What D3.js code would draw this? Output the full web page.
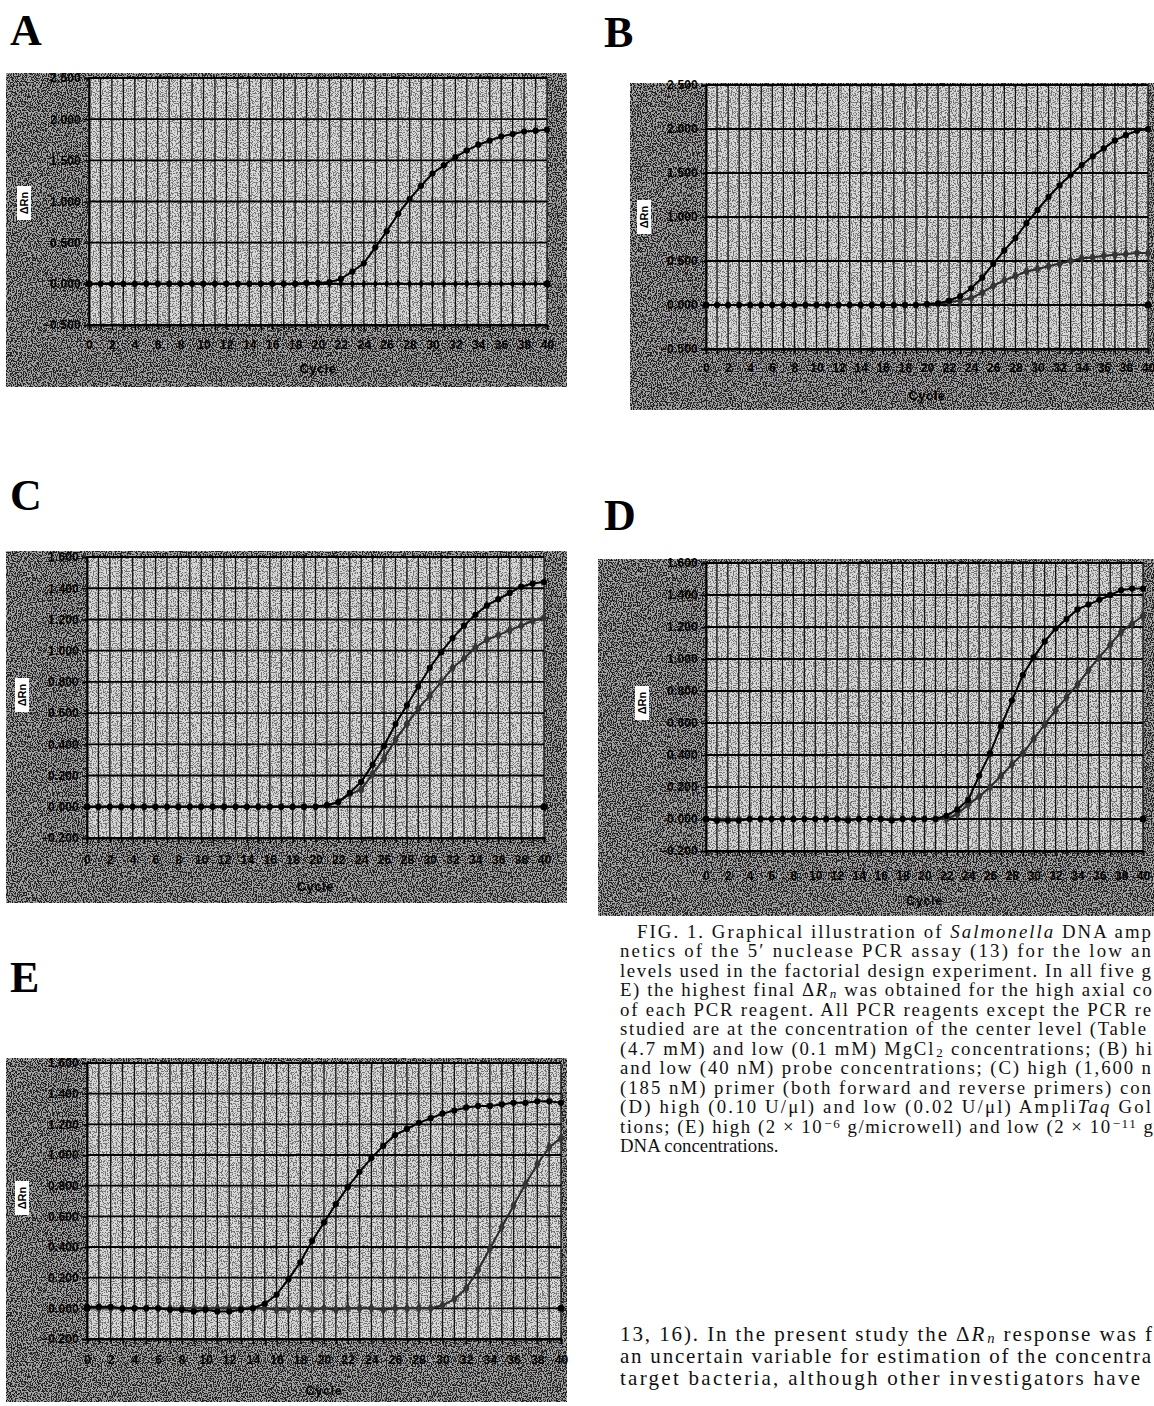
<!DOCTYPE html>
<html><head><meta charset="utf-8">
<script src="https://cdn.jsdelivr.net/npm/d3@7"></script>
<style>
html,body{margin:0;padding:0;background:#fff;overflow:hidden;}
svg{display:block;}
</style></head><body>
<svg id="fig" width="1154" height="1406"></svg>
<script>
// ---------- DATA ----------
const cycles = [0,1,2,3,4,5,6,7,8,9,10,11,12,13,14,15,16,17,18,19,20,21,22,23,24,25,26,27,28,29,30,31,32,33,34,35,36,37,38,39,40];
const xTickLabels = ["0","2","4","6","8","10","12","14","16","18","20","22","24","26","28","30","32","34","36","38","40"];
const yTicksAB = [-0.5,0,0.5,1.0,1.5,2.0,2.5];
const yTicksCDE = [-0.2,0,0.2,0.4,0.6,0.8,1.0,1.2,1.4,1.6];

const highA = [0,0,0,0,0,0,0,0,0,0, 0,0,0,0,0,0,0,0,0,0.01, 0.01,0.02,0.06,0.15,0.25,0.44,0.64,0.85,1.03,1.19, 1.34,1.44,1.54,1.62,1.69,1.74,1.79,1.82,1.85,1.86, 1.87];
const lowA  = [0,0,0,0,0,0,0,0,0,0, 0,0,0,0,0,0,0,0,0,0, 0,0,0,0,0,0,0,0,0,0, 0,0,0,0,0,0,0,0,0,0, 0];

const highB = [0,0,0,0,0,0,0,0,0,0, 0,0,0,0,0,0,0,0,0,0, 0.01,0.02,0.05,0.10,0.19,0.31,0.47,0.62,0.76,0.93, 1.08,1.23,1.36,1.48,1.59,1.69,1.78,1.87,1.93,1.98, 2.00];
const lowB  = [0,0,0,0,0,0,0,0,0,0, 0,0,0,0,0,0,0,0,0,0, 0,0.01,0.03,0.05,0.08,0.14,0.22,0.28,0.33,0.38, 0.41,0.44,0.47,0.50,0.53,0.54,0.56,0.57,0.58,0.59, 0.59];

const highC = [0,0,0,0,0,0,0,0,0,0, 0,0,0,0,0,0,0,0,0,0, 0,0.01,0.03,0.09,0.16,0.27,0.39,0.53,0.65,0.77, 0.89,0.99,1.08,1.16,1.23,1.29,1.33,1.37,1.41,1.43, 1.44];
const lowC  = [0,0,0,0,0,0,0,0,0,0, 0,0,0,0,0,0,0,0,0,0, 0,0.01,0.03,0.08,0.11,0.21,0.31,0.43,0.53,0.63, 0.71,0.80,0.89,0.95,1.02,1.07,1.10,1.13,1.16,1.19, 1.21];

const highD = [0,-0.01,-0.01,-0.01,0,0,0,0,0,0, 0,0,0,-0.01,0,0,0,-0.01,0,0, 0,0,0.02,0.06,0.12,0.27,0.41,0.58,0.74,0.90, 1.01,1.11,1.19,1.25,1.31,1.34,1.37,1.40,1.43,1.44, 1.44];
const lowD  = [0,0,0,0,0,0,0,0,0,0, 0,0,0,0,0,0,0,0,0,0, 0,0,0,0.03,0.09,0.14,0.20,0.27,0.34,0.41, 0.50,0.59,0.68,0.76,0.84,0.93,1.01,1.09,1.17,1.22, 1.27];

const highE = [0.01,0.01,0.01,0,0,0,0,-0.01,-0.01,-0.02, -0.01,-0.02,-0.02,-0.01,0,0.03,0.09,0.19,0.30,0.44, 0.56,0.68,0.79,0.89,0.98,1.06,1.13,1.17,1.21,1.24, 1.27,1.29,1.31,1.32,1.32,1.33,1.34,1.34,1.35,1.35, 1.34];
const lowE  = [0,0,0,0,0,0,0,0,0,0, 0,0,0,0,0,0,-0.01,-0.01,0,-0.01, 0,-0.01,0,0,0,-0.01,0,0,0,0, 0.02,0.06,0.13,0.25,0.39,0.53,0.67,0.81,0.94,1.05, 1.11];

const panelNames = ["A","B","C","D","E"];
const yAxisTitle = "\u0394Rn";
const xAxisTitle = "Cycle";

// caption text as visible in the reference (the right page edge cuts each line)
const captionLines = [
  [["FIG. 1. Graphical illustration of "],["Salmonella","i"],[" DNA amp"]],
  [["netics of the 5\u2032 nuclease PCR assay (13) for the low an"]],
  [["levels used in the factorial design experiment. In all five g"]],
  [["E) the highest final \u0394"],["R","i"],["n","isub"],[" was obtained for the high axial co"]],
  [["of each PCR reagent. All PCR reagents except the PCR re"]],
  [["studied are at the concentration of the center level (Table"]],
  [["(4.7 mM) and low (0.1 mM) MgCl"],["2","sub"],[" concentrations; (B) hi"]],
  [["and low (40 nM) probe concentrations; (C) high (1,600 n"]],
  [["(185 nM) primer (both forward and reverse primers) con"]],
  [["(D) high (0.10 U/\u03bcl) and low (0.02 U/\u03bcl) Ampli"],["Taq","i"],[" Gol"]],
  [["tions; (E) high (2 \u00d7 10"],["\u22126","sup"],[" g/microwell) and low (2 \u00d7 10"],["\u221211","sup"],[" g"]],
  [["DNA concentrations."]]
];
const bodyLines = [
  [["13, 16). In the present study the \u0394"],["R","i"],["n","isub"],[" response was f"]],
  [["an uncertain variable for estimation of the concentra"]],
  [["target bacteria, although other investigators have"]]
];

// ---------- LAYOUT ----------
const layout = {
  A: {letter:[10,45],  box:[6,73,561,314],   plot:[89,547,78,325],   xlab:345, cyc:373, ylab:[24,203],  ticks:yTicksAB},
  B: {letter:[604,47], box:[630,83,530,327], plot:[706,1148,85,349], xlab:368, cyc:400, ylab:[644,217], ticks:yTicksAB},
  C: {letter:[10,510], box:[6,551,561,352],  plot:[87,544,557,838],  xlab:860, cyc:891, ylab:[22,695],  ticks:yTicksCDE},
  D: {letter:[604,530],box:[598,559,560,357],plot:[706,1143,563,851],xlab:876, cyc:905, ylab:[642,703], ticks:yTicksCDE},
  E: {letter:[10,992], box:[6,1058,561,344], plot:[87,561,1063,1339],xlab:1360,cyc:1395,ylab:[22,1198], ticks:yTicksCDE}
};
const series = {A:[highA,lowA], B:[highB,lowB], C:[highC,lowC], D:[highD,lowD], E:[highE,lowE]};

// ---------- DRAW ----------
const svg = d3.select("#fig");
const defs = svg.append("defs");
function makeDither(id, thresh, bg, dot, seed){
  const f = defs.append("filter").attr("id",id)
    .attr("x",0).attr("y",0).attr("width",1).attr("height",1)
    .attr("color-interpolation-filters","sRGB");
  f.append("feTurbulence").attr("type","fractalNoise").attr("baseFrequency",0.8)
    .attr("numOctaves",1).attr("seed",seed).attr("result","n");
  f.append("feColorMatrix").attr("in","n").attr("type","matrix")
    .attr("values","0 0 0 0 0  0 0 0 0 0  0 0 0 0 0  1 0 0 0 0").attr("result","a");
  const ct = f.append("feComponentTransfer").attr("in","a").attr("result","b");
  ct.append("feFuncA").attr("type","linear").attr("slope",14).attr("intercept",-14*thresh);
  f.append("feFlood").attr("flood-color",dot).attr("result","k");
  f.append("feComposite").attr("in","k").attr("in2","b").attr("operator","in").attr("result","dots");
  f.append("feFlood").attr("flood-color",bg).attr("result","bgc");
  const m = f.append("feMerge");
  m.append("feMergeNode").attr("in","bgc");
  m.append("feMergeNode").attr("in","dots");
}
makeDither("dDark", 0.475, "#a4a4a4", "#202020", 3);
makeDither("dLight", 0.51, "#d8d8d8", "#727272", 11);

const fmtY = d3.format(".3f");
const tickFont = "'Liberation Sans', Arial, sans-serif";

panelNames.forEach(key => {
  const L = layout[key];
  const [high, low] = series[key];
  const g = svg.append("g").attr("class","panel-"+key);

  svg.append("text").attr("x",L.letter[0]).attr("y",L.letter[1])
    .attr("font-family","'Liberation Serif','Times New Roman',serif")
    .attr("font-weight","bold").attr("font-size",44).attr("fill","#000").text(key);

  g.append("rect").attr("x",L.box[0]).attr("y",L.box[1]).attr("width",L.box[2]).attr("height",L.box[3])
    .attr("fill","#888").attr("filter","url(#dDark)");

  const x = d3.scaleLinear().domain([cycles[0], cycles[cycles.length-1]]).range([L.plot[0], L.plot[1]]);
  const y = d3.scaleLinear().domain(d3.extent(L.ticks)).range([L.plot[3], L.plot[2]]);

  g.append("rect").attr("x",x(cycles[0])).attr("y",y(d3.max(L.ticks)))
    .attr("width",x(cycles[cycles.length-1])-x(cycles[0]))
    .attr("height",y(d3.min(L.ticks))-y(d3.max(L.ticks)))
    .attr("fill","#bbb").attr("filter","url(#dLight)");

  g.append("g").selectAll("line").data(cycles).join("line")
    .attr("x1",d=>x(d)).attr("x2",d=>x(d))
    .attr("y1",y(d3.max(L.ticks))).attr("y2",y(d3.min(L.ticks)))
    .attr("stroke","#111").attr("stroke-width",1.3);
  g.append("g").selectAll("line").data(L.ticks).join("line")
    .attr("x1",x(cycles[0])).attr("x2",x(cycles[cycles.length-1]))
    .attr("y1",d=>y(d)).attr("y2",d=>y(d))
    .attr("stroke","#000").attr("stroke-width",1.9);

  const xAxis = d3.axisBottom(x).tickValues(cycles).tickSize(5).tickPadding(L.xlab - L.plot[3] - 10)
    .tickFormat(d => xTickLabels.includes(String(d)) ? String(d) : "");
  const xa = g.append("g").attr("transform",`translate(0,${y(d3.min(L.ticks))})`).call(xAxis);
  const yAxis = d3.axisLeft(y).tickValues(L.ticks).tickSize(5).tickPadding(3).tickFormat(fmtY);
  const ya = g.append("g").attr("transform",`translate(${x(cycles[0])},0)`).call(yAxis);
  [xa, ya].forEach(a => {
    a.selectAll("path").attr("stroke","#000").attr("stroke-width",1.9);
    a.selectAll("line").attr("stroke","#000").attr("stroke-width",1.4);
    a.selectAll("text").attr("font-family",tickFont).attr("font-weight","bold")
      .attr("font-size",12).attr("fill","#000").attr("letter-spacing",0.2);
  });

  const cx = (x(cycles[0]) + x(cycles[cycles.length-1]))/2;
  g.append("text").attr("x",cx).attr("y",L.cyc).attr("text-anchor","middle")
    .attr("font-family",tickFont).attr("font-weight","bold").attr("font-size",12.5)
    .attr("fill","#000").attr("letter-spacing",0.7).text(xAxisTitle);
  g.append("rect").attr("x",L.ylab[0]-7).attr("y",L.ylab[1]-17).attr("width",14).attr("height",34).attr("fill","#fff");
  g.append("text").attr("transform",`translate(${L.ylab[0]+4},${L.ylab[1]}) rotate(-90)`)
    .attr("text-anchor","middle").attr("font-family",tickFont).attr("font-weight","bold")
    .attr("font-size",11).attr("fill","#000").text(yAxisTitle);

  const line = d3.line().x((v,i)=>x(cycles[i])).y(v=>y(v));
  g.append("path").datum(low).attr("d",line).attr("fill","none")
    .attr("stroke", key==="A" ? "#000" : "#2a2a2a").attr("stroke-width",2);
  g.append("g").selectAll("path").data(low).join("path")
    .attr("transform",(v,i)=>`translate(${x(cycles[i])},${y(v)})`)
    .attr("d", d3.symbol().type(d3.symbolDiamond).size(key==="A"?22:36))
    .attr("fill", key==="A" ? "#000" : "#333");
  g.append("path").datum(high).attr("d",line).attr("fill","none")
    .attr("stroke","#000").attr("stroke-width",2);
  g.append("g").selectAll("circle").data(high).join("circle")
    .attr("cx",(v,i)=>x(cycles[i])).attr("cy",v=>y(v)).attr("r",3.1).attr("fill","#000");
  g.append("g").selectAll("circle").data([cycles[0], cycles[cycles.length-1]]).join("circle")
    .attr("cx",d=>x(d)).attr("cy",y(0)).attr("r",3.5).attr("fill","#000");
});

// ---------- TEXT ----------
function writeLines(lines, x0, firstIndent, y0, lh, size, targets){
  lines.forEach((segs, li) => {
    const start = li===0 ? x0+firstIndent : x0;
    const t = svg.append("text").attr("x", start).attr("y", y0 + li*lh)
      .attr("font-family","'Liberation Serif','Times New Roman',serif").attr("font-size",size).attr("fill","#111");
    segs.forEach(s => {
      const sp = t.append("tspan").text(s[0]);
      const f = s[1] || "";
      if (f.includes("i")) sp.attr("font-style","italic");
      if (f.includes("sub")) sp.attr("font-size",size*0.7).attr("dx",1).attr("baseline-shift","-15%");
      if (f.includes("sup")) sp.attr("font-size",size*0.7).attr("dx",1).attr("baseline-shift","35%");
    });
    const target = targets[li];
    if (target) {
      const node = t.node();
      const n = node.getNumberOfChars();
      const nat = node.getComputedTextLength();
      const ls = (target - start - nat) / Math.max(1, n - 1);
      t.attr("letter-spacing", ls);
    }
  });
}
writeLines(captionLines, 620, 17, 938, 19.45, 18.8,
  [1151,1151,1151,1151,1151,1146,1151,1151,1151,1151,1151,0]);
writeLines(bodyLines, 620, 0, 1341, 22, 21, [1151,1151,1140]);
</script>
</body></html>
